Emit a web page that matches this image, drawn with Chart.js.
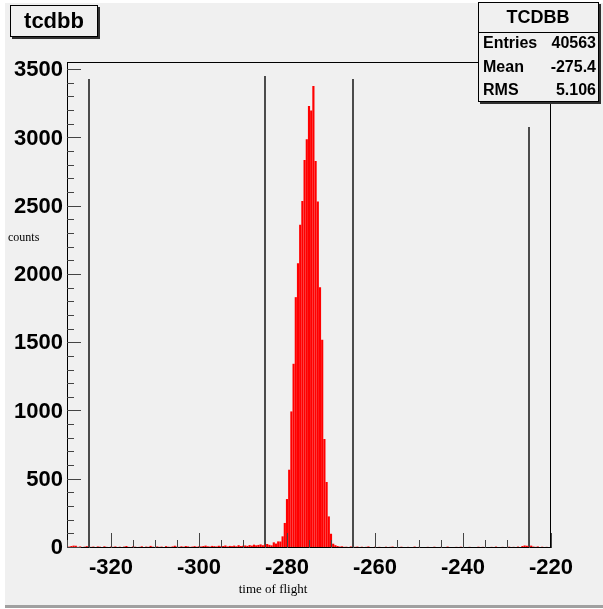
<!DOCTYPE html>
<html lang="en">
<head>
  <meta charset="UTF-8">
  <title>tcdbb</title>
  <script src="https://cdn.jsdelivr.net/npm/chart.js"></script>
  <style>
    body { margin: 0; padding: 0; background: #ffffff; }
    #wrap { width: 603px; height: 609px; }
  </style>
</head>
<body>
  <div id="wrap"><canvas id="tof" width="603" height="609"></canvas></div>

  <script>
    // texts
    const histTitle = 'tcdbb';
    const statsName = 'TCDBB';
    const statsLabels = ['Entries', 'Mean', 'RMS'];
    const statsValues = ['40563', '-275.4', '5.106'];
    const xTitle = 'time of flight';
    const yTitle = 'counts';

    // histogram bins, 0.5 wide, first centre at -329.5
    const binStart = -329.5;
    const binStep = 0.5;
    // -329.5 .. -284.0
    const leftTail = [
      8, 12, 15, 14, 6, 9, 5, 7, 11, 4, 6, 8, 5, 9, 7, 4, 10, 6, 5, 8,
      6, 9, 4, 7, 5, 8, 12, 6, 5, 9, 7, 4, 6, 10, 5, 8, 6, 13, 7, 5,
      9, 6, 8, 5, 11, 7, 6, 9, 14, 8, 6, 10, 7, 12, 9, 6, 8, 11, 7, 10,
      9, 12, 15, 10, 8, 13, 11, 9, 14, 10, 12, 16, 9, 13, 11, 15, 10, 18, 12, 14,
      16, 13, 19, 15, 22, 17, 20, 24, 18, 23, 27, 21
    ];
    // -283.5 .. -269.0
    const peakCounts = [
      17, 39, 30, 46, 45, 83, 181, 356, 571, 998,
      1347, 1835, 2084, 2365, 2540, 2840, 2992, 3236, 3202, 3382,
      2833, 2535, 1908, 1523, 796, 481, 229, 102, 29, 18
    ];
    // -268.5 .. -220.5
    const rightTail = [
      12, 8, 10, 6, 7, 5, 9, 4, 6, 8, 5, 7, 3, 6, 9, 4, 5, 7, 3, 6,
      5, 4, 7, 3, 6, 8, 4, 5, 3, 7, 5, 4, 6, 3, 5, 8, 4, 6, 3, 5,
      4, 6, 3, 5, 7, 4, 3, 6, 5, 4, 8, 3, 5, 4, 6, 3, 7, 4, 5, 3,
      6, 4, 5, 3, 7, 4, 6, 5, 3, 4, 6, 5, 8, 4, 3, 6, 5, 4, 7, 5,
      6, 4, 8, 5, 12, 16, 14, 10, 15, 8, 6, 9, 5, 7, 4, 6, 5
    ];

    // the thin black spikes
    const spikeX = [-325, -285, -265, -225];
    const spikeCounts = [3433, 3455, 3433, 3082];

    // axes
    const xMin = -330, xMax = -220, xMinorStep = 5;
    const yMin = 0, yMax = 3560, yMinorStep = 100;
    const xTicks = [-320, -300, -280, -260, -240, -220];
    const yTicks = [0, 500, 1000, 1500, 2000, 2500, 3000, 3500];

    const counts = leftTail.concat(peakCounts, rightTail);
    const histPoints = counts.map((c, i) => ({ x: binStart + i * binStep, y: c }));
    const spikePoints = spikeX.map((x, i) => ({ x: x, y: spikeCounts[i] }));

    const bg = '#f0f0f0';
    const rootFont = '"Liberation Sans", Arial, sans-serif';

    function paveBox(c, x, y, w, h) {
      c.fillStyle = '#303030';
      c.fillRect(x + 2, y + 2, w, h);
      c.fillStyle = bg;
      c.fillRect(x, y, w, h);
      c.strokeStyle = '#000';
      c.lineWidth = 1;
      c.strokeRect(x + 0.5, y + 0.5, w - 1, h - 1);
    }

    const rootLook = {
      id: 'rootLook',
      beforeDraw(chart) {
        const c = chart.ctx;
        c.save();
        c.fillStyle = '#ffffff';
        c.fillRect(0, 0, chart.width, chart.height);
        c.fillStyle = bg;
        c.fillRect(5, 3, chart.width - 5, 602);
        c.fillStyle = '#a0a0a0';
        c.fillRect(5, 605, chart.width - 5, 3);
        c.restore();
      },
      afterDatasetsDraw(chart) {
        const c = chart.ctx;
        const a = chart.chartArea;
        const xs = chart.scales.x, ys = chart.scales.y;
        c.save();
        c.lineWidth = 1;
        c.strokeStyle = '#000';
        c.strokeRect(a.left + 0.5, a.top + 0.5, a.right - a.left - 1, a.bottom - a.top - 1);

        // ticks point inwards like ROOT
        c.strokeStyle = '#444';
        c.beginPath();
        for (let v = xMin; v <= xMax; v += xMinorStep) {
          const px = Math.round(xs.getPixelForValue(v)) + 0.5;
          const len = xTicks.includes(v) ? 15 : 8;
          c.moveTo(px, a.bottom);
          c.lineTo(px, a.bottom - len);
        }
        for (let v = yMin; v <= yMax; v += yMinorStep) {
          const py = Math.round(ys.getPixelForValue(v)) - 0.5;
          const len = yTicks.includes(v) ? 14 : 7;
          c.moveTo(a.left, py);
          c.lineTo(a.left + len, py);
        }
        c.stroke();
        c.restore();
      },
      afterDraw(chart) {
        const c = chart.ctx;
        c.save();

        // axis titles
        c.fillStyle = '#000';
        c.font = '12px "Liberation Serif", serif';
        c.textAlign = 'left';
        c.textBaseline = 'middle';
        c.fillText(yTitle, 8, 238);
        c.font = '13px "Liberation Serif", serif';
        c.textAlign = 'center';
        c.fillText(xTitle, 273, 590);

        // title box
        paveBox(c, 10, 5, 88, 32);
        c.fillStyle = '#000';
        c.font = 'bold 22px "Liberation Sans Narrow", ' + rootFont;
        c.textAlign = 'center';
        c.fillText(histTitle, 54, 22);

        // stats box
        paveBox(c, 478, 2, 121, 100);
        c.strokeStyle = '#000';
        c.beginPath();
        c.moveTo(478, 32.5);
        c.lineTo(599, 32.5);
        c.stroke();
        c.fillStyle = '#000';
        c.font = 'bold 18px ' + rootFont;
        c.fillText(statsName, 538, 18);
        c.font = 'bold 16px ' + rootFont;
        const rowY = [44, 68, 91];
        statsLabels.forEach((lab, i) => {
          c.textAlign = 'left';
          c.fillText(lab, 483, rowY[i]);
          c.textAlign = 'right';
          c.fillText(statsValues[i], 596, rowY[i]);
        });
        c.restore();
      }
    };

    const tickFont = { family: rootFont, size: 22, weight: 'bold' };

    new Chart(document.getElementById('tof'), {
      type: 'bar',
      data: {
        datasets: [
          {
            data: histPoints,
            backgroundColor: '#ff0000',
            borderWidth: 0,
            barThickness: 1.5,
            grouped: false
          },
          {
            data: spikePoints,
            backgroundColor: '#2a2a2a',
            borderWidth: 0,
            barThickness: 1,
            grouped: false
          }
        ]
      },
      options: {
        responsive: false,
        animation: false,
        events: [],
        devicePixelRatio: 1,
        layout: { padding: { left: 0, top: 62, right: 52, bottom: 0 } },
        plugins: {
          legend: { display: false },
          tooltip: { enabled: false }
        },
        scales: {
          x: {
            type: 'linear',
            min: xMin,
            max: xMax,
            offset: false,
            grid: { display: false, drawTicks: false },
            border: { display: false },
            afterBuildTicks(scale) { scale.ticks = xTicks.map(v => ({ value: v })); },
            ticks: {
              autoSkip: false,
              maxRotation: 0,
              padding: 7,
              color: '#000',
              font: tickFont,
              callback: v => String(v)
            },
            afterFit(scale) { scale.height = 61; }
          },
          y: {
            min: yMin,
            max: yMax,
            grid: { display: false, drawTicks: false },
            border: { display: false },
            afterBuildTicks(scale) { scale.ticks = yTicks.map(v => ({ value: v })); },
            ticks: {
              autoSkip: false,
              padding: 4,
              color: '#000',
              font: tickFont,
              callback: v => String(v)
            },
            afterFit(scale) { scale.width = 67; }
          }
        }
      },
      plugins: [rootLook]
    });
  </script>
</body>
</html>
